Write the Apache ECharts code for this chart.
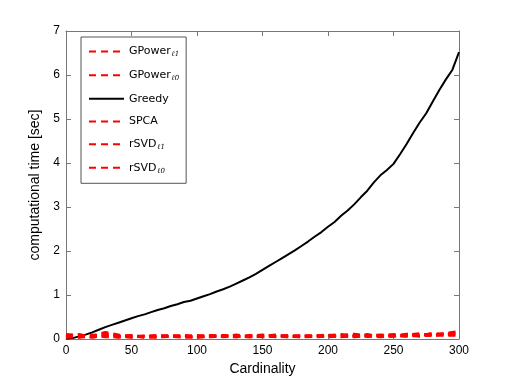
<!DOCTYPE html>
<html>
<head>
<meta charset="utf-8">
<script src="https://cdn.jsdelivr.net/npm/echarts@6/dist/echarts.min.js"></script>
<style>
  html, body { margin: 0; padding: 0; background: #fff; }
  #main { width: 507px; height: 382px; }
</style>
</head>
<body>
<div id="main"></div>
<script>
// cardinality steps
var card5 = [];
for (var i = 0; i <= 300; i += 5) card5.push(i);
var card10 = [];
for (var j = 0; j <= 300; j += 10) card10.push(j);

var greedy = [0.01, 0.02, 0.06, 0.10, 0.15, 0.21, 0.27, 0.32, 0.37, 0.42,
  0.47, 0.52, 0.56, 0.61, 0.66, 0.70, 0.75, 0.79, 0.84, 0.87,
  0.92, 0.97, 1.02, 1.08, 1.13, 1.19, 1.26, 1.33, 1.40, 1.48,
  1.57, 1.66, 1.75, 1.84, 1.93, 2.02, 2.12, 2.22, 2.33, 2.43,
  2.55, 2.66, 2.80, 2.92, 3.06, 3.22, 3.37, 3.56, 3.72, 3.84,
  3.98, 4.20, 4.43, 4.68, 4.92, 5.13, 5.40, 5.66, 5.90, 6.12, 6.52];

var gpowerL1 = [0.10, 0.08, 0.06, 0.12, 0.07, 0.05, 0.06, 0.08, 0.05, 0.07, 0.06, 0.08, 0.05, 0.07, 0.06, 0.09,
  0.05, 0.07, 0.06, 0.08, 0.05, 0.07, 0.09, 0.06, 0.08, 0.10, 0.07, 0.09, 0.11, 0.08, 0.14];
var gpowerL0 = [0.06, 0.10, 0.04, 0.09, 0.05, 0.08, 0.04, 0.06, 0.07, 0.05, 0.08, 0.05, 0.06, 0.09, 0.05, 0.06,
  0.08, 0.06, 0.05, 0.07, 0.09, 0.05, 0.07, 0.10, 0.06, 0.07, 0.09, 0.12, 0.07, 0.12, 0.10];
var spca = [0.04, 0.05, 0.09, 0.05, 0.06, 0.04, 0.07, 0.05, 0.06, 0.04, 0.05, 0.06, 0.07, 0.05, 0.08, 0.05,
  0.06, 0.05, 0.08, 0.05, 0.07, 0.06, 0.05, 0.08, 0.07, 0.06, 0.11, 0.07, 0.09, 0.13, 0.17];
var rsvdL1 = [0.08, 0.04, 0.07, 0.15, 0.09, 0.06, 0.05, 0.07, 0.06, 0.08, 0.05, 0.07, 0.06, 0.05, 0.07, 0.06,
  0.09, 0.05, 0.07, 0.06, 0.08, 0.10, 0.06, 0.07, 0.09, 0.08, 0.06, 0.10, 0.08, 0.10, 0.12];
var rsvdL0 = [0.05, 0.09, 0.05, 0.07, 0.04, 0.07, 0.05, 0.04, 0.08, 0.06, 0.04, 0.06, 0.08, 0.06, 0.05, 0.07,
  0.06, 0.08, 0.05, 0.06, 0.07, 0.08, 0.11, 0.07, 0.05, 0.08, 0.08, 0.07, 0.13, 0.09, 0.08];

var xTicks = [0, 50, 100, 150, 200, 250, 300];
var yTicks = [0, 1, 2, 3, 4, 5, 6, 7];

function pairs(xs, ys) {
  return xs.map(function (x, k) { return [x, ys[k]]; });
}

var labels = {
  'GPower_l1': 'GPower{s|ℓ1}',
  'GPower_l0': 'GPower{s|ℓ0}',
  'Greedy': 'Greedy',
  'SPCA': 'SPCA',
  'rSVD_l1': 'rSVD{s|ℓ1}',
  'rSVD_l0': 'rSVD{s|ℓ0}'
};

function redLine(name, ys) {
  return {
    name: name, type: 'line', data: pairs(card10, ys), symbol: 'none',
    lineStyle: { color: '#ff0000', width: 3, type: [7, 5] },
    itemStyle: { color: '#ff0000' }
  };
}

var chart = echarts.init(document.getElementById('main'));
var axisCol = '#777777';
var tick = { show: true, inside: true, length: 5, lineStyle: { color: axisCol } };
var option = {
  backgroundColor: '#fff',
  animation: false,
  textStyle: { fontFamily: 'Liberation Sans' },
  grid: { left: 66, right: 48, top: 31, bottom: 43 },
  legend: {
    left: 81, top: 37,
    orient: 'vertical',
    data: ['GPower_l1', 'GPower_l0', 'Greedy', 'SPCA', 'rSVD_l1', 'rSVD_l0'],
    backgroundColor: '#fff',
    borderColor: '#555',
    borderWidth: 1,
    borderRadius: 0,
    padding: [9, 7, 9, 7],
    itemWidth: 35, itemHeight: 14, itemGap: 11.5,
    itemStyle: { opacity: 0 },
    formatter: function (name) { return labels[name]; },
    textStyle: {
      fontFamily: 'DejaVu Sans', fontSize: 11, color: '#000',
      rich: { s: { fontSize: 7, verticalAlign: 'bottom', padding: [6, 0, 0, 1], fontFamily: 'DejaVu Serif', fontStyle: 'italic' } }
    }
  },
  xAxis: [{
    type: 'value', min: 0, max: 300, interval: 50,
    name: 'Cardinality', nameLocation: 'middle', nameGap: 16,
    nameTextStyle: { fontSize: 14, color: '#000' },
    axisLine: { show: true, onZero: false, lineStyle: { color: axisCol } },
    axisTick: tick,
    axisLabel: { color: '#000', fontSize: 12, margin: 6 },
    splitLine: { show: false }
  }, {
    type: 'value', min: 0, max: 300, interval: 50, position: 'top',
    axisLine: { show: true, onZero: false, lineStyle: { color: axisCol } },
    axisTick: tick,
    axisLabel: { show: false }, splitLine: { show: false }
  }],
  yAxis: [{
    type: 'value', min: 0, max: 7, interval: 1,
    name: 'computational time [sec]', nameLocation: 'middle', nameGap: 24,
    nameTextStyle: { fontSize: 14, color: '#000' },
    axisLine: { show: true, onZero: false, lineStyle: { color: axisCol } },
    axisTick: tick,
    axisLabel: { color: '#000', fontSize: 12, margin: 6 },
    splitLine: { show: false }
  }, {
    type: 'value', min: 0, max: 7, interval: 1, position: 'right',
    axisLine: { show: true, onZero: false, lineStyle: { color: axisCol } },
    axisTick: tick,
    axisLabel: { show: false }, splitLine: { show: false }
  }],
  series: [
    redLine('GPower_l1', gpowerL1),
    redLine('GPower_l0', gpowerL0),
    {
      name: 'Greedy', type: 'line', data: pairs(card5, greedy), symbol: 'none',
      lineStyle: { color: '#000', width: 2 }, itemStyle: { color: '#000' }, z: 3
    },
    redLine('SPCA', spca),
    redLine('rSVD_l1', rsvdL1),
    redLine('rSVD_l0', rsvdL0)
  ]
};
chart.setOption(option);
</script>
</body>
</html>
